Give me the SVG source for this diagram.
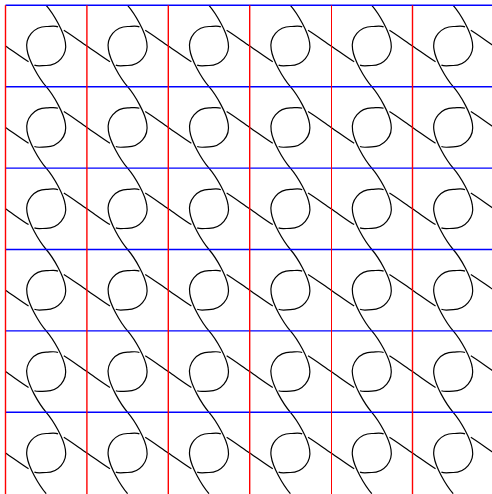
<svg xmlns="http://www.w3.org/2000/svg" width="492" height="494" viewBox="0 0 492 494">
<style>
.k{fill:none;stroke:#000;stroke-width:1.2}
.h{stroke:#0000ff;stroke-width:1.4}
.v{stroke:#ff0000;stroke-width:1.4}
</style>
<defs>
<g id="t" class="k">
<path id="s" d="M-40.7 0C-32.4 5.7-23.3 12.4-17.64 15.8M-11.8 19.1C-8.65 20.6-4 19.5 0 19.5A19.5 19.5 0 0 0 19.2-3.4C17.8-14 7.5-32 0-40.7"/>
<use href="#s" transform="rotate(180)"/>
</g>
</defs>
<rect width="492" height="494" fill="#fff"/>
<g id="tiles">
<g id="tile-0-0"><use href="#t" x="46.2" y="46"/></g>
<g id="tile-0-1"><use href="#t" x="127.6" y="46"/></g>
<g id="tile-0-2"><use href="#t" x="209" y="46"/></g>
<g id="tile-0-3"><use href="#t" x="290.4" y="46"/></g>
<g id="tile-0-4"><use href="#t" x="371.8" y="46"/></g>
<g id="tile-0-5"><use href="#t" x="453.2" y="46"/></g>
<g id="tile-1-0"><use href="#t" x="46.2" y="127.4"/></g>
<g id="tile-1-1"><use href="#t" x="127.6" y="127.4"/></g>
<g id="tile-1-2"><use href="#t" x="209" y="127.4"/></g>
<g id="tile-1-3"><use href="#t" x="290.4" y="127.4"/></g>
<g id="tile-1-4"><use href="#t" x="371.8" y="127.4"/></g>
<g id="tile-1-5"><use href="#t" x="453.2" y="127.4"/></g>
<g id="tile-2-0"><use href="#t" x="46.2" y="208.8"/></g>
<g id="tile-2-1"><use href="#t" x="127.6" y="208.8"/></g>
<g id="tile-2-2"><use href="#t" x="209" y="208.8"/></g>
<g id="tile-2-3"><use href="#t" x="290.4" y="208.8"/></g>
<g id="tile-2-4"><use href="#t" x="371.8" y="208.8"/></g>
<g id="tile-2-5"><use href="#t" x="453.2" y="208.8"/></g>
<g id="tile-3-0"><use href="#t" x="46.2" y="290.2"/></g>
<g id="tile-3-1"><use href="#t" x="127.6" y="290.2"/></g>
<g id="tile-3-2"><use href="#t" x="209" y="290.2"/></g>
<g id="tile-3-3"><use href="#t" x="290.4" y="290.2"/></g>
<g id="tile-3-4"><use href="#t" x="371.8" y="290.2"/></g>
<g id="tile-3-5"><use href="#t" x="453.2" y="290.2"/></g>
<g id="tile-4-0"><use href="#t" x="46.2" y="371.6"/></g>
<g id="tile-4-1"><use href="#t" x="127.6" y="371.6"/></g>
<g id="tile-4-2"><use href="#t" x="209" y="371.6"/></g>
<g id="tile-4-3"><use href="#t" x="290.4" y="371.6"/></g>
<g id="tile-4-4"><use href="#t" x="371.8" y="371.6"/></g>
<g id="tile-4-5"><use href="#t" x="453.2" y="371.6"/></g>
<g id="tile-5-0"><use href="#t" x="46.2" y="453"/></g>
<g id="tile-5-1"><use href="#t" x="127.6" y="453"/></g>
<g id="tile-5-2"><use href="#t" x="209" y="453"/></g>
<g id="tile-5-3"><use href="#t" x="290.4" y="453"/></g>
<g id="tile-5-4"><use href="#t" x="371.8" y="453"/></g>
<g id="tile-5-5"><use href="#t" x="453.2" y="453"/></g>
</g>
<g id="grid">
<line class="h" x1="5.5" y1="5.3" x2="492" y2="5.3"/>
<line class="h" x1="5.5" y1="86.7" x2="492" y2="86.7"/>
<line class="h" x1="5.5" y1="168.1" x2="492" y2="168.1"/>
<line class="h" x1="5.5" y1="249.5" x2="492" y2="249.5"/>
<line class="h" x1="5.5" y1="330.9" x2="492" y2="330.9"/>
<line class="h" x1="5.5" y1="412.3" x2="492" y2="412.3"/>
<line class="v" x1="5.5" y1="5.3" x2="5.5" y2="494"/>
<line class="v" x1="86.9" y1="5.3" x2="86.9" y2="494"/>
<line class="v" x1="168.3" y1="5.3" x2="168.3" y2="494"/>
<line class="v" x1="249.7" y1="5.3" x2="249.7" y2="494"/>
<line class="v" x1="331.5" y1="5.3" x2="331.5" y2="494" style="stroke-width:1"/>
<line class="v" x1="412.5" y1="5.3" x2="412.5" y2="494"/>
</g>
</svg>
